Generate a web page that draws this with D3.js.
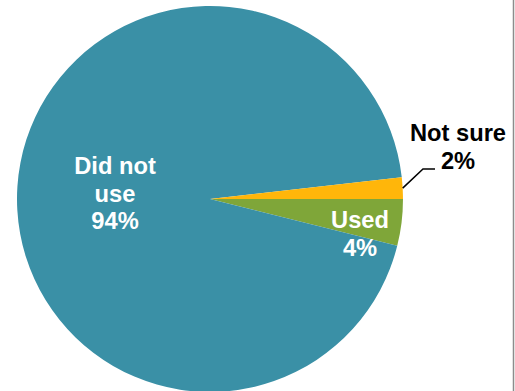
<!DOCTYPE html>
<html>
<head>
<meta charset="utf-8">
<script src="https://cdn.jsdelivr.net/npm/d3@7"></script>
<style>
  html, body { margin: 0; padding: 0; background: #fff; }
  svg { display: block; }
  text { font-family: "Liberation Sans", Arial, sans-serif; font-weight: bold; }
</style>
</head>
<body>
<svg id="chart" width="515" height="391"></svg>
<script>
const categories = ["Used", "Did not use", "Not sure"];
const values = [3.9, 94.3, 1.8];
const labels = [["Used", "4%"], ["Did not", "use", "94%"], ["Not sure", "2%"]];
const colors = ["#7FA639", "#3A90A6", "#FFB60A"];

const svg = d3.select("#chart");
const W = 515, H = 391;
const cx = 210, cy = 199, r = 193;

// right frame line
svg.append("line").attr("x1", 513.5).attr("x2", 513.5).attr("y1", 0).attr("y2", H)
  .attr("stroke", "#8c8c8c").attr("stroke-width", 1.5);

const pie = d3.pie().sort(null).value(d => d)
  .startAngle(Math.PI / 2).endAngle(Math.PI / 2 + 2 * Math.PI);
const arcs = pie(values);
const arc = d3.arc().innerRadius(0).outerRadius(r);

const g = svg.append("g").attr("transform", `translate(${cx},${cy})`);
g.selectAll("path").data(arcs).enter().append("path")
  .attr("d", arc)
  .attr("fill", (d, i) => colors[i]);

const fs = 23.7, lh = 27.5;
function drawLabel(lines, x, yBase, fill) {
  const t = svg.append("text").attr("text-anchor", "middle").attr("fill", fill)
    .attr("font-size", fs);
  lines.forEach((l, k) => {
    t.append("tspan").attr("x", x).attr("y", yBase + k * lh).text(l);
  });
}

drawLabel(labels[1], 115, 174, "#ffffff");
drawLabel(labels[0], 360, 228, "#ffffff");
const ns = arcs[2];
const mid = (ns.startAngle + ns.endAngle) / 2;
const px = cx + Math.sin(mid) * r, py = cy - Math.cos(mid) * r;
svg.append("polyline")
  .attr("points", `${px},${py} ${423},${169} ${435},${169}`)
  .attr("fill", "none").attr("stroke", "#000").attr("stroke-width", 1.5);
drawLabel(labels[2], 458, 141, "#000000");
</script>
</body>
</html>
